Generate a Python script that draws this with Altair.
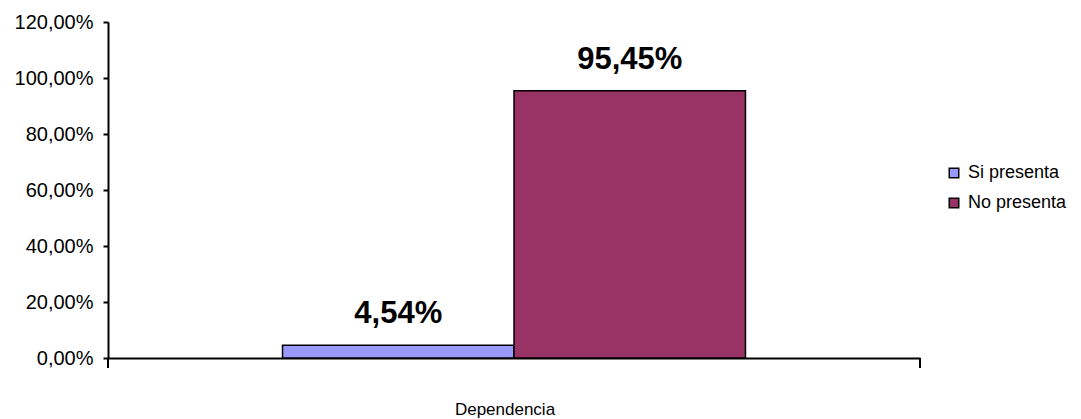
import altair as alt
import pandas as pd

categories = ["Dependencia", "Dependencia"]
series = ["Si presenta", "No presenta"]
values = [0.0454, 0.9545]
colors = ["#9999FF", "#993366"]

df = pd.DataFrame({"cat": categories, "serie": series, "valor": values})

W, H = 812, 336
FONT = "Liberation Sans"

base = alt.Chart(df).encode(
    x=alt.X("cat:N", title=None,
            scale=alt.Scale(paddingInner=0, paddingOuter=0.377),
            axis=alt.Axis(labelAngle=0, ticks=False, labelPadding=43, labelFontSize=17,
                          labelOffset=-9,
                          labelFont=FONT, labelColor="black", domainColor="black",
                          domainWidth=2)),
    xOffset=alt.XOffset("serie:N", sort=series, scale=alt.Scale(paddingInner=0, paddingOuter=0)),
)

bars = base.mark_bar(stroke="black", strokeWidth=1.5).encode(
    y=alt.Y("valor:Q", title=None,
            scale=alt.Scale(domain=[0, 1.2]),
            axis=alt.Axis(values=[0, 0.2, 0.4, 0.6, 0.8, 1.0, 1.2],
                          labelExpr="replace(format(datum.value, '.2%'), '.', ',')",
                          grid=False, tickSize=5, tickColor="black", tickWidth=2,
                          domainColor="black", domainWidth=2,
                          labelFontSize=20, labelFont=FONT, labelColor="black",
                          labelPadding=10)),
    color=alt.Color("serie:N", sort=series,
                    scale=alt.Scale(domain=series, range=colors),
                    legend=alt.Legend(title=None, orient="none", legendX=837, legendY=142,
                                      symbolType="square", symbolSize=90,
                                      symbolStrokeColor="black", symbolStrokeWidth=1.5,
                                      labelFontSize=18, labelFont=FONT, labelColor="black",
                                      rowPadding=12, labelOffset=5)),
)

labels = base.mark_text(fontSize=31, fontWeight="bold", font=FONT, color="black",
                        baseline="alphabetic", dy=-22).encode(
    y=alt.Y("valor:Q"),
    text=alt.Text("lab:N"),
).transform_calculate(lab="replace(format(datum.valor, '.2%'), '.', ',')")

ends = alt.Chart(pd.DataFrame({"e": [0, W]})).mark_rule(color="black", strokeWidth=2).encode(
    x=alt.X("e:Q", scale=alt.Scale(domain=[0, W], range=[0, W]), axis=None),
    y=alt.value(H), y2=alt.value(H + 10),
)

chart = alt.layer(bars, labels).resolve_scale(x="shared")
chart = alt.layer(chart, ends).resolve_scale(x="independent").properties(
    width=W, height=H, padding={"left": 6, "top": 4, "right": 5, "bottom": 5}
).configure_view(stroke=None)

chart.save("out.html", embed_options={"renderer": "svg", "actions": False})
